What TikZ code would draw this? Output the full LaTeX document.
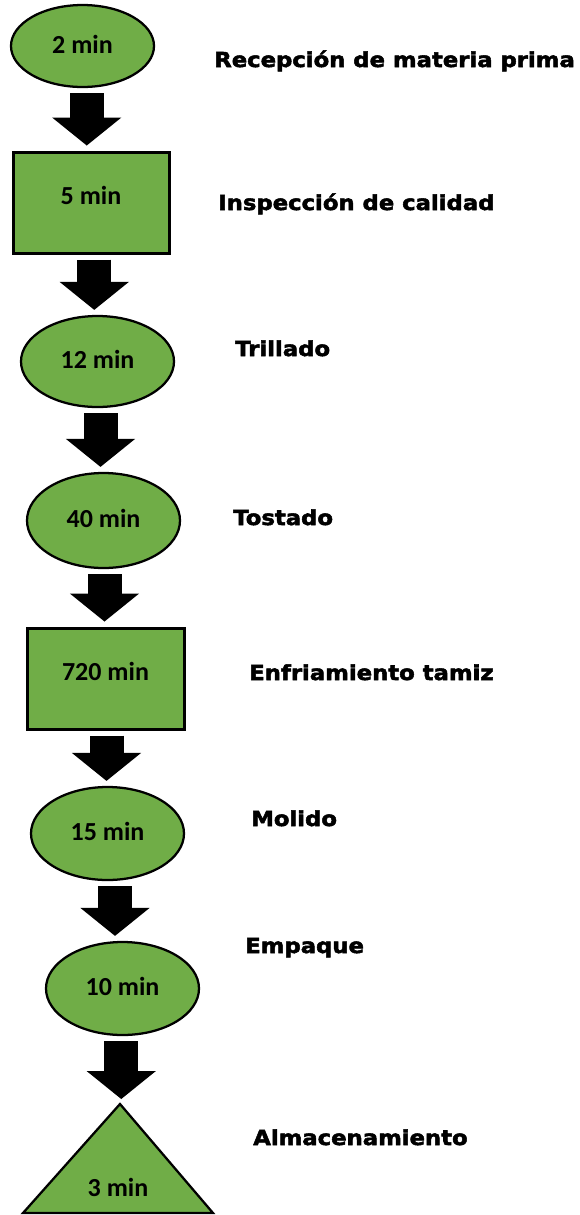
\documentclass[tikz,border=0pt]{standalone}
\usepackage{fontspec}
\usetikzlibrary{shapes.geometric,arrows.meta,calc}
\newfontfamily\labelfont[FakeStretch=1.1,BoldFeatures={FakeBold=2.5}]{DejaVu Sans}
\newfontfamily\timefont{Carlito}
\definecolor{stagegreen}{HTML}{70AD47}
\begin{document}
\begin{tikzpicture}[x=0.75pt,y=-0.75pt,
    oval/.style={ellipse,draw,fill=stagegreen,line width=1.7pt,inner sep=0pt,text depth=3pt,
      font=\timefont\bfseries\fontsize{19.5}{20}\selectfont},
    box/.style={rectangle,draw,fill=stagegreen,line width=2.25pt,inner sep=0pt,text depth=11.2pt,
      font=\timefont\bfseries\fontsize{19.5}{20}\selectfont},
    timetext/.style={inner sep=0pt,font=\timefont\bfseries\fontsize{19.5}{20}\selectfont},
    stagelabel/.style={anchor=base west,inner sep=0pt,font=\labelfont\bfseries\fontsize{15.5}{18}\selectfont},
    flow/.style={line width=25.5pt,-{Triangle[length=21pt,width=52pt,line width=0pt]},
      shorten <=3.75pt,shorten >=3.75pt}]
  \useasboundingbox (0,0) rectangle (580,1215);
  \draw
    (82.5,46) node[oval,minimum width=107.25pt,minimum height=61.5pt] (recep){2 min}
    (91,202.5) node[box,minimum width=117pt,minimum height=75.75pt] (insp){5 min}
    (97.5,361.5) node[oval,minimum width=114.75pt,minimum height=68.25pt] (trill){12 min}
    (103.5,520.5) node[oval,minimum width=114.75pt,minimum height=71.25pt] (tost){40 min}
    (105.5,678.5) node[box,minimum width=117.75pt,minimum height=75.75pt] (enfr){720 min}
    (107.5,833.5) node[oval,minimum width=114.75pt,minimum height=69.75pt] (mol){15 min}
    (122.5,988.5) node[oval,minimum width=114.75pt,minimum height=69.75pt] (emp){10 min};
  \draw[fill=stagegreen,line width=1.7pt,line join=miter]
    (120,1104) coordinate (apex) -- (23,1213) -- (213,1213) -- cycle;
  \node[timetext] (alm) at (118,1187) {3 min};
  \draw
    (214,67) node[stagelabel] (lrecep){Recepción de materia prima}
    (218,210) node[stagelabel] (linsp){Inspección de calidad}
    (235,356) node[stagelabel] (ltrill){Trillado}
    (233,525) node[stagelabel] (ltost){Tostado}
    (249,680) node[stagelabel] (lenfr){Enfriamiento tamiz}
    (251,826) node[stagelabel] (lmol){Molido}
    (245,953) node[stagelabel] (lemp){Empaque}
    (253,1145) node[stagelabel] (lalm){Almacenamiento};
  \begin{scope}[flow]
    \coordinate (m1) at ($(recep.south)!.5!(insp.north)$);
    \coordinate (m2) at ($(insp.south)!.5!(trill.north)$);
    \coordinate (m3) at ($(trill.south)!.5!(tost.north)$);
    \coordinate (m4) at ($(tost.south)!.5!(enfr.north)$);
    \coordinate (m5) at ($(enfr.south)!.5!(mol.north)$);
    \coordinate (m6) at ($(mol.south)!.5!(emp.north)$);
    \coordinate (m7) at ($(emp.south)!.5!(apex)$);
    \draw (recep.south -| m1) to (insp.north -| m1);
    \draw (insp.south -| m2) to (trill.north -| m2);
    \draw (trill.south -| m3) to (tost.north -| m3);
    \draw (tost.south -| m4) to (enfr.north -| m4);
    \draw (enfr.south -| m5) to (mol.north -| m5);
    \draw (mol.south -| m6) to (emp.north -| m6);
    \draw (emp.south -| m7) to (apex -| m7);
  \end{scope}
\end{tikzpicture}
\end{document}
